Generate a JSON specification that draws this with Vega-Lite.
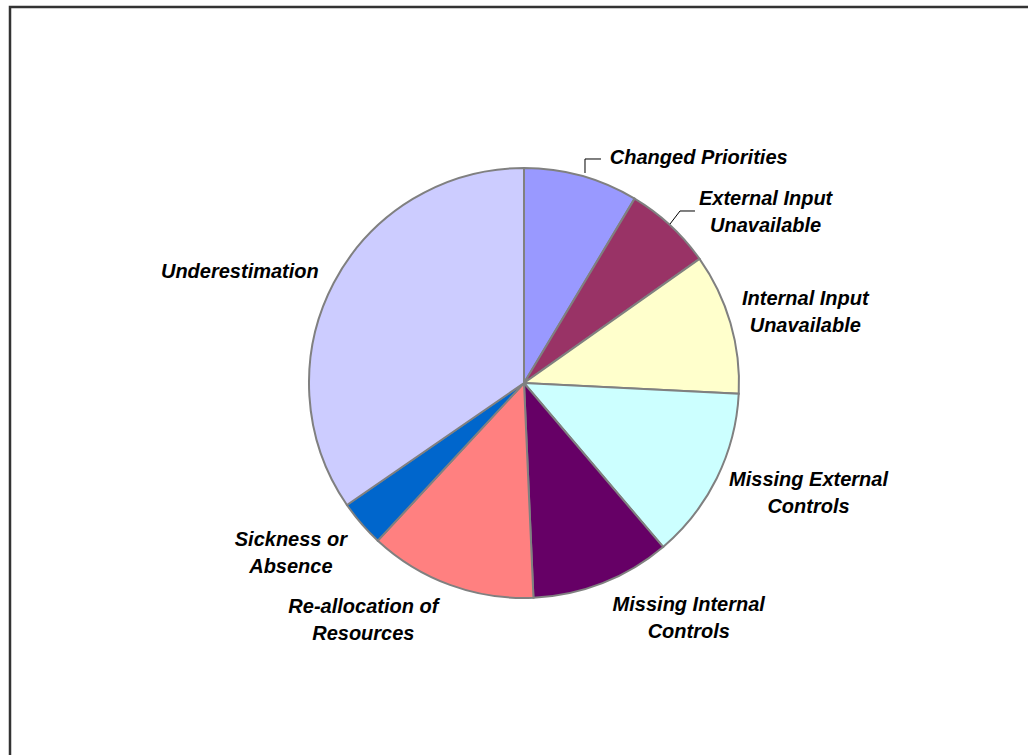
{
  "$schema": "https://vega.github.io/schema/vega-lite/v6.json",
  "width": 1028,
  "height": 752,
  "autosize": {"type": "none"},
  "padding": {"left": 10, "top": 7, "right": 0, "bottom": 0},
  "background": "white",
  "config": {"view": {"stroke": "#333333", "strokeWidth": 2.5}},
  "datasets": {
    "slices": [
      {"idx": 1, "label": "Changed Priorities", "value": 8.6},
      {"idx": 2, "label": "External Input\nUnavailable", "value": 6.6},
      {"idx": 3, "label": "Internal Input\nUnavailable", "value": 10.6},
      {"idx": 4, "label": "Missing External\nControls", "value": 13.0},
      {"idx": 5, "label": "Missing Internal\nControls", "value": 10.5},
      {"idx": 6, "label": "Re-allocation of\nResources", "value": 12.6},
      {"idx": 7, "label": "Sickness or\nAbsence", "value": 3.5},
      {"idx": 8, "label": "Underestimation", "value": 34.6}
    ],
    "leaders": [
      {"leader": 1, "step": 0, "lx": 0.2837, "ly": 0.9767},
      {"leader": 1, "step": 1, "lx": 0.2837, "ly": 1.0419},
      {"leader": 1, "step": 2, "lx": 0.3581, "ly": 1.0419},
      {"leader": 2, "step": 0, "lx": 0.6791, "ly": 0.7395},
      {"leader": 2, "step": 1, "lx": 0.7256, "ly": 0.8},
      {"leader": 2, "step": 2, "lx": 0.7953, "ly": 0.8}
    ]
  },
  "layer": [
    {
      "data": {"name": "slices"},
      "mark": {"type": "arc", "outerRadius": 215, "stroke": "#808080", "strokeWidth": 2},
      "encoding": {
        "theta": {"field": "value", "type": "quantitative", "stack": true},
        "order": {"field": "idx", "type": "quantitative"},
        "color": {
          "field": "label",
          "type": "nominal",
          "legend": null,
          "scale": {
            "domain": ["Changed Priorities", "External Input\nUnavailable", "Internal Input\nUnavailable", "Missing External\nControls", "Missing Internal\nControls", "Re-allocation of\nResources", "Sickness or\nAbsence", "Underestimation"],
            "range": ["#9999FF", "#993366", "#FFFFCC", "#CCFFFF", "#660066", "#FF8080", "#0066CC", "#CCCCFF"]
          }
        }
      }
    },
    {
      "data": {"name": "leaders"},
      "mark": {"type": "line", "color": "#000000", "strokeWidth": 1},
      "encoding": {
        "x": {"field": "lx", "type": "quantitative", "axis": null, "scale": {"domain": [-2.3907, 2.3907], "zero": false, "nice": false}},
        "y": {"field": "ly", "type": "quantitative", "axis": null, "scale": {"domain": [-1.7488, 1.7488], "zero": false, "nice": false}},
        "detail": {"field": "leader", "type": "nominal"},
        "order": {"field": "step", "type": "quantitative"}
      }
    },
    {
      "data": {"name": "slices"},
      "mark": {
        "type": "text",
        "radius": 295,
        "align": "center",
        "baseline": "middle",
        "lineBreak": "\n",
        "lineHeight": 27,
        "font": "Liberation Sans",
        "fontSize": 20,
        "fontStyle": "italic",
        "fontWeight": "bold",
        "color": "#000000",
        "dx": {"expr": "[96,41,-2,20,57,-59,-10,-23][datum.idx-1]"},
        "dy": {"expr": "[59,32.5,-1.5,-33.5,-52.5,-52.5,-35.5,26][datum.idx-1]"}
      },
      "encoding": {
        "theta": {"field": "value", "type": "quantitative", "stack": true},
        "order": {"field": "idx", "type": "quantitative"},
        "text": {"field": "label", "type": "nominal"}
      }
    }
  ]
}
